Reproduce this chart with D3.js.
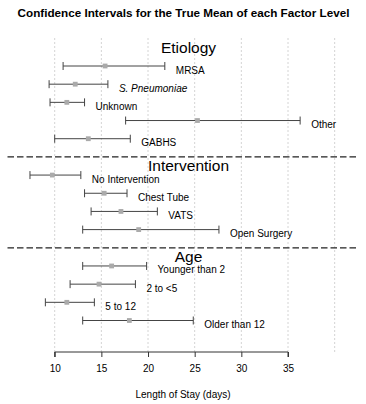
<!DOCTYPE html>
<html>
<head>
<meta charset="utf-8">
<script src="https://cdn.jsdelivr.net/npm/d3@7"></script>
<style>
  body { margin: 0; background: #fff; }
  svg { font-family: "Liberation Sans", Arial, sans-serif; }
</style>
</head>
<body>
<div id="chart"></div>
<script>
// factor groups and their levels
const groups = ["Etiology", "Intervention", "Age"];
const levels = [
    ["MRSA", "S. Pneumoniae", "Unknown", "Other", "GABHS"],
    ["No Intervention", "Chest Tube", "VATS", "Open Surgery"],
    ["Younger than 2", "2 to <5", "5 to 12", "Older than 12"]
];
// estimated means and CI bounds (days)
const means = [
    [15.4, 12.2, 11.3, 25.3, 13.6],
    [9.75, 15.3, 17.1, 19.0],
    [16.1, 14.75, 11.3, 18.0]
];
const lowers = [
    [10.9, 9.4, 9.5, 17.6, 10.0],
    [7.35, 13.2, 13.9, 13.0],
    [13.0, 11.65, 9.0, 13.0]
];
const uppers = [
    [21.8, 15.7, 13.2, 36.3, 18.1],
    [12.8, 17.75, 21.0, 27.6],
    [19.85, 18.65, 14.25, 24.85]
];
const italicLevels = ["S. Pneumoniae"];
const xTicks = [10, 15, 20, 25, 30, 35];
const gridTicks = [10, 15, 20, 25, 30, 35, 40];

const width = 366, height = 404;

const svg = d3.select("#chart").append("svg")
    .attr("width", width)
    .attr("height", height);

// x: days -> pixels
const x = d3.scaleLinear().domain([10, 35]).range([54.7, 288]);
// y: row index -> pixels
const y = d3.scaleLinear().domain([0, 14]).range([66, 320.5]);

// build rows, leaving a gap row between groups
let rows = [], sections = [], r = 0;
groups.forEach((g, gi) => {
    if (gi > 0) r += 1;
    sections.push({ name: g, first: r, idx: gi });
    levels[gi].forEach((lv, li) => {
        rows.push({ name: lv, mean: means[gi][li], lo: lowers[gi][li], hi: uppers[gi][li], row: r });
        r += 1;
    });
});

// title
svg.append("text")
    .attr("x", 183.5)
    .attr("y", 17)
    .attr("text-anchor", "middle")
    .style("font-size", "11.7px")
    .style("font-weight", "bold")
    .text("Confidence Intervals for the True Mean of each Factor Level");

// dotted grid
svg.append("g").selectAll("line")
    .data(gridTicks)
    .enter().append("line")
    .attr("x1", d => x(d)).attr("x2", d => x(d))
    .attr("y1", 38).attr("y2", 352)
    .attr("stroke", "#d4d4d4")
    .attr("stroke-width", 1)
    .attr("stroke-dasharray", "2,2");

// dashed separators between groups
svg.append("g").selectAll("line")
    .data(sections.slice(1))
    .enter().append("line")
    .attr("x1", 7.5).attr("x2", 359)
    .attr("y1", d => y(d.first - 1)).attr("y2", d => y(d.first - 1))
    .attr("stroke", "#222")
    .attr("stroke-width", 1.2)
    .attr("stroke-dasharray", "6.5,3");

// group headers
svg.append("g").selectAll("text")
    .data(sections)
    .enter().append("text")
    .attr("x", 188.5)
    .attr("y", d => y(d.idx === 0 ? d.first - 1 : d.first - 0.5) + 5.5)
    .attr("text-anchor", "middle")
    .style("font-size", "15.5px")
    .text(d => d.name);

// intervals
const bars = svg.append("g").selectAll("g")
    .data(rows)
    .enter().append("g");

bars.append("line")
    .attr("x1", d => x(d.lo)).attr("x2", d => x(d.hi))
    .attr("y1", d => y(d.row)).attr("y2", d => y(d.row))
    .attr("stroke", "#444");

bars.selectAll(".cap")
    .data(d => [d.lo, d.hi].map(v => ({ v: v, row: d.row })))
    .enter().append("line")
    .attr("class", "cap")
    .attr("x1", d => x(d.v)).attr("x2", d => x(d.v))
    .attr("y1", d => y(d.row) - 4).attr("y2", d => y(d.row) + 4)
    .attr("stroke", "#444");

bars.append("rect")
    .attr("x", d => x(d.mean) - 2.4)
    .attr("y", d => y(d.row) - 2.4)
    .attr("width", 4.8)
    .attr("height", 4.8)
    .attr("fill", "#aaaaaa");

bars.append("text")
    .attr("x", d => x(d.hi) + 11)
    .attr("y", d => y(d.row) + 7.5)
    .style("font-size", "10px")
    .style("font-style", d => italicLevels.includes(d.name) ? "italic" : "normal")
    .text(d => d.name);

// x axis
const axis = svg.append("g")
    .attr("transform", "translate(0,352)")
    .call(d3.axisBottom(x).tickValues(xTicks).tickSize(5).tickPadding(8));
axis.select(".domain").attr("stroke", "#333").attr("d", `M${x(10)},5V0H${x(35)}V5`);
axis.selectAll(".tick line").attr("stroke", "#333");
axis.selectAll("text")
    .style("font-size", "10px")
    .style("font-family", "Liberation Sans, Arial, sans-serif")
    .attr("fill", "#000");

svg.append("text")
    .attr("x", 183)
    .attr("y", 398)
    .attr("text-anchor", "middle")
    .style("font-size", "10px")
    .text("Length of Stay (days)");
</script>
</body>
</html>
